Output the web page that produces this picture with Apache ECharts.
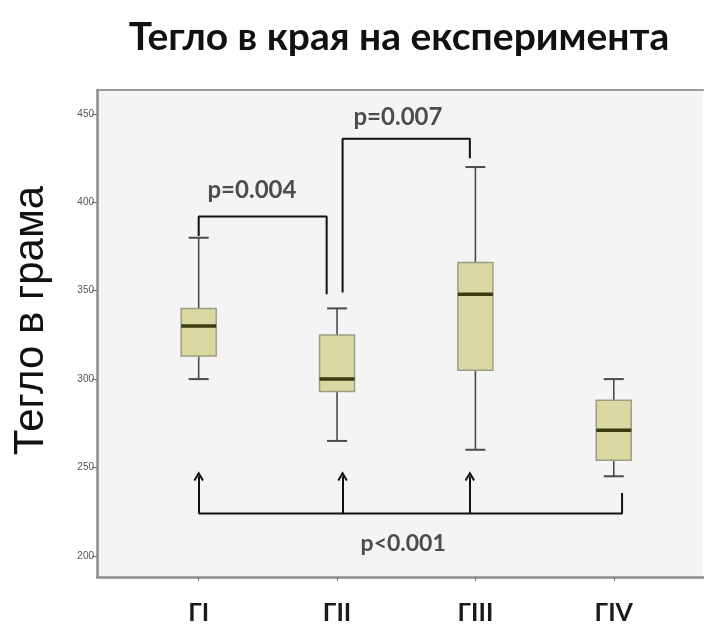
<!DOCTYPE html>
<html>
<head>
<meta charset="utf-8">
<script src="https://cdn.jsdelivr.net/npm/echarts@6/dist/echarts.min.js"></script>
<style>
  html, body { margin: 0; padding: 0; background: #fff; }
  #chart { width: 711px; height: 625px; }
</style>
</head>
<body>
<div id="chart"></div>
<script>
// Groups and box statistics (grams)
const groups = ['ГI', 'ГII', 'ГIII', 'ГIV'];
const groupPos = [1, 2, 3, 4];
const whiskerLow = [300, 265, 260, 245];
const quartile1 = [313, 293, 305, 254];
const medians = [330, 300, 348, 271];
const quartile3 = [340, 325, 366, 288];
const whiskerHigh = [380, 340, 420, 300];
const yTicks = [200, 250, 300, 350, 400, 450];

// Comparison brackets: [group position, grams]
const bracketA = [[1, 381], [1, 392], [1.925, 392], [1.925, 348]];
const bracketB = [[2.04, 349], [2.04, 436], [2.96, 436], [2.96, 425]];
const baseLine = [[1, 224], [4.06, 224], [4.06, 235.5]];
const arrowX = [1, 2.04, 2.96];
const arrowFrom = 224;
const arrowTo = 245;

// Significance labels
const pTexts = ['p=0.004', 'p=0.007', 'p<0.001'];
const pX = [1.385, 2.44, 2.478];
const pY = [407, 448, 207];
const pSizes = [24, 24, 23];

const chart = echarts.init(document.getElementById('chart'), null, { renderer: 'canvas' });

const boxData = groupPos.map((x, i) => [x, whiskerLow[i], quartile1[i], medians[i], quartile3[i], whiskerHigh[i]]);

const bracketStyle = { color: '#111', width: 2 };
function bracketSeries(points) {
  return {
    type: 'line',
    data: points,
    symbol: 'none',
    silent: true,
    lineStyle: bracketStyle,
    z: 5
  };
}

const xMin = 0.265, xMax = 4.645;

const option = {
  animation: false,
  backgroundColor: '#fff',
  title: {
    text: 'Тегло в края на експеримента',
    left: 394,
    top: 13,
    textAlign: 'center',
    textStyle: { fontFamily: 'Lato', fontWeight: 'bold', fontSize: 39, color: '#111' }
  },
  grid: {
    show: true,
    left: 97, right: 8, top: 90, bottom: 48,
    outerBoundsMode: 'none',
    containLabel: false,
    backgroundColor: '#f4f4f4',
    borderWidth: 0
  },
  xAxis: [
    {
      type: 'value',
      min: xMin, max: xMax,
      position: 'bottom',
      splitLine: { show: false },
      axisLine: { show: true, lineStyle: { color: '#8c8c8c', width: 2.5 } },
      axisTick: { show: true, customValues: groupPos, length: 4, lineStyle: { color: '#777', width: 1 } },
      axisLabel: {
        customValues: groupPos,
        formatter: v => groups[groupPos.indexOf(v)] || '',
        fontFamily: 'Lato', fontWeight: 'bold', fontSize: 25, color: '#1a1a1a',
        margin: 23
      }
    },
    {
      type: 'value',
      min: xMin, max: xMax,
      position: 'top',
      splitLine: { show: false },
      axisLine: { show: true, lineStyle: { color: '#9a9a9a', width: 2 } },
      axisTick: { show: false },
      axisLabel: { show: false }
    }
  ],
  yAxis: {
    type: 'value',
    min: 188, max: 463.6,
    splitLine: { show: false },
    axisLine: { show: true, lineStyle: { color: '#8c8c8c', width: 2.5 } },
    axisTick: { show: true, customValues: yTicks, length: 5, lineStyle: { color: '#777', width: 1.2 } },
    axisLabel: {
      customValues: yTicks,
      fontFamily: 'Liberation Sans', fontSize: 10, color: '#555', margin: 3
    },
    name: 'Тегло в грама',
    nameLocation: 'middle',
    nameGap: 45,
    nameTextStyle: { fontFamily: 'Liberation Sans', fontSize: 42, color: '#111', padding: [0, 0, 0, 26] }
  },
  series: [
    {
      type: 'custom',
      data: boxData,
      encode: { x: 0, y: [1, 2, 3, 4, 5] },
      z: 3,
      renderItem: function (params, api) {
        const x = api.value(0);
        const pMin = api.coord([x, api.value(1)]);
        const pQ1 = api.coord([x, api.value(2)]);
        const pMed = api.coord([x, api.value(3)]);
        const pQ3 = api.coord([x, api.value(4)]);
        const pMax = api.coord([x, api.value(5)]);
        const cx = pMin[0];
        const hw = 17.5;
        const cap = 10;
        const whisker = { stroke: '#4a4a4a', lineWidth: 1.6 };
        return {
          type: 'group',
          children: [
            { type: 'line', shape: { x1: cx, y1: pQ3[1], x2: cx, y2: pMax[1] }, style: whisker },
            { type: 'line', shape: { x1: cx, y1: pQ1[1], x2: cx, y2: pMin[1] }, style: whisker },
            { type: 'line', shape: { x1: cx - cap, y1: pMax[1], x2: cx + cap, y2: pMax[1] }, style: { stroke: '#4a4a4a', lineWidth: 2 } },
            { type: 'line', shape: { x1: cx - cap, y1: pMin[1], x2: cx + cap, y2: pMin[1] }, style: { stroke: '#4a4a4a', lineWidth: 2 } },
            { type: 'rect', shape: { x: cx - hw, y: pQ3[1], width: hw * 2, height: pQ1[1] - pQ3[1] }, style: { fill: '#dbd7a0', stroke: '#9d9d84', lineWidth: 1.5 } },
            { type: 'line', shape: { x1: cx - hw, y1: pMed[1], x2: cx + hw, y2: pMed[1] }, style: { stroke: '#3b3b12', lineWidth: 3.5 } }
          ]
        };
      }
    },
    bracketSeries(bracketA),
    bracketSeries(bracketB),
    Object.assign(bracketSeries(baseLine), {
      markLine: {
        silent: true,
        symbol: ['none', 'path://M5,0 L10,7 L8.6,8.2 L5,3.2 L1.4,8.2 L0,7 Z'],
        symbolSize: [10, 10],
        label: { show: false },
        lineStyle: { color: '#111', width: 2, type: 'solid' },
        data: arrowX.map(x => [{ coord: [x, arrowFrom] }, { coord: [x, arrowTo] }])
      }
    }),
    {
      type: 'scatter',
      symbolSize: 0,
      silent: true,
      z: 6,
      data: pTexts.map((t, i) => ({
        name: t,
        value: [pX[i], pY[i]],
        label: { fontSize: pSizes[i] }
      })),
      label: {
        show: true,
        position: 'inside',
        formatter: p => p.name,
        fontFamily: 'Lato', fontWeight: 'bold', color: '#222'
      }
    }
  ]
};

chart.setOption(option);
</script>
</body>
</html>
